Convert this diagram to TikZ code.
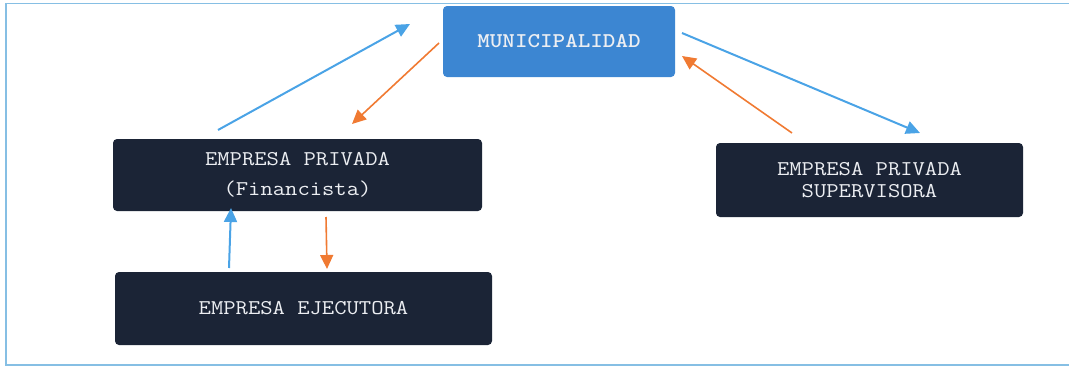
\documentclass[tikz,border=0pt]{standalone}
\usepackage{fontspec}
\newfontfamily\courlike[FakeStretch=1.14]{Latin Modern Mono}
\newfontfamily\courlikebold[FakeStretch=1.14]{Latin Modern Mono Light}
\usetikzlibrary{arrows.meta}
\definecolor{navy}{HTML}{1B2436}
\definecolor{muniblue}{HTML}{3C86D2}
\definecolor{arrblue}{HTML}{4AA3E6}
\definecolor{arrorange}{HTML}{F07A32}
\definecolor{framecol}{HTML}{86BFE4}
\definecolor{txt}{HTML}{ECEEF2}
\begin{document}
\begin{tikzpicture}[x=1pt,y=-1pt,
  darkbox/.style={fill=navy,rounded corners=4pt,inner sep=0pt,align=center,
    text=txt,font=\courlike\fontsize{21}{30}\selectfont},
  muniboxst/.style={fill=muniblue,rounded corners=4pt,inner sep=0pt,align=center,
    text=txt,font=\courlikebold\bfseries\fontsize{21}{30}\selectfont},
  bluearr/.style={draw=arrblue,line width=2pt,-{Triangle[length=14pt,width=13pt]}},
  orangearr/.style={draw=arrorange,line width=1.6pt,-{Triangle[length=14pt,width=13pt]}}]
\useasboundingbox (0,0) rectangle (1069,367);
\draw[framecol,line width=1.5pt] (6,3.5) rectangle (1080,365);
\node[muniboxst,minimum width=232pt,minimum height=71pt] (muni) at (559,41.5) {MUNICIPALIDAD};
\node[darkbox,minimum width=369pt,minimum height=72pt] (fin) at (297.5,175) {EMPRESA PRIVADA\\(Financista)};
\node[darkbox,minimum width=377pt,minimum height=73pt] (eje) at (303.5,308.5) {EMPRESA EJECUTORA};
\node[darkbox,minimum width=307pt,minimum height=74pt,
  font=\courlike\fontsize{21}{22}\selectfont] (sup) at (869.5,180) {EMPRESA PRIVADA\\SUPERVISORA};
% endpoints
\coordinate (finTopL) at (218,130);
\coordinate (muniInL) at (410,24);
\coordinate (muniOutL) at (439,43);
\coordinate (finIn) at (352,124);
\coordinate (muniOutR) at (682,33);
\coordinate (supIn) at (920,133);
\coordinate (supOut) at (792,133);
\coordinate (muniInR) at (682,56);
\coordinate (ejeOut) at (229,268);
\coordinate (finInB) at (231,208);
\coordinate (finOutB) at (326,217);
\coordinate (ejeIn) at (327,269);
\draw[bluearr] (finTopL) -- (muniInL);
\draw[orangearr] (muniOutL) -- (finIn);
\draw[bluearr] (muniOutR) -- (supIn);
\draw[orangearr] (supOut) -- (muniInR);
\draw[bluearr] (ejeOut) -- (finInB);
\draw[orangearr] (finOutB) -- (ejeIn);
\end{tikzpicture}
\end{document}
